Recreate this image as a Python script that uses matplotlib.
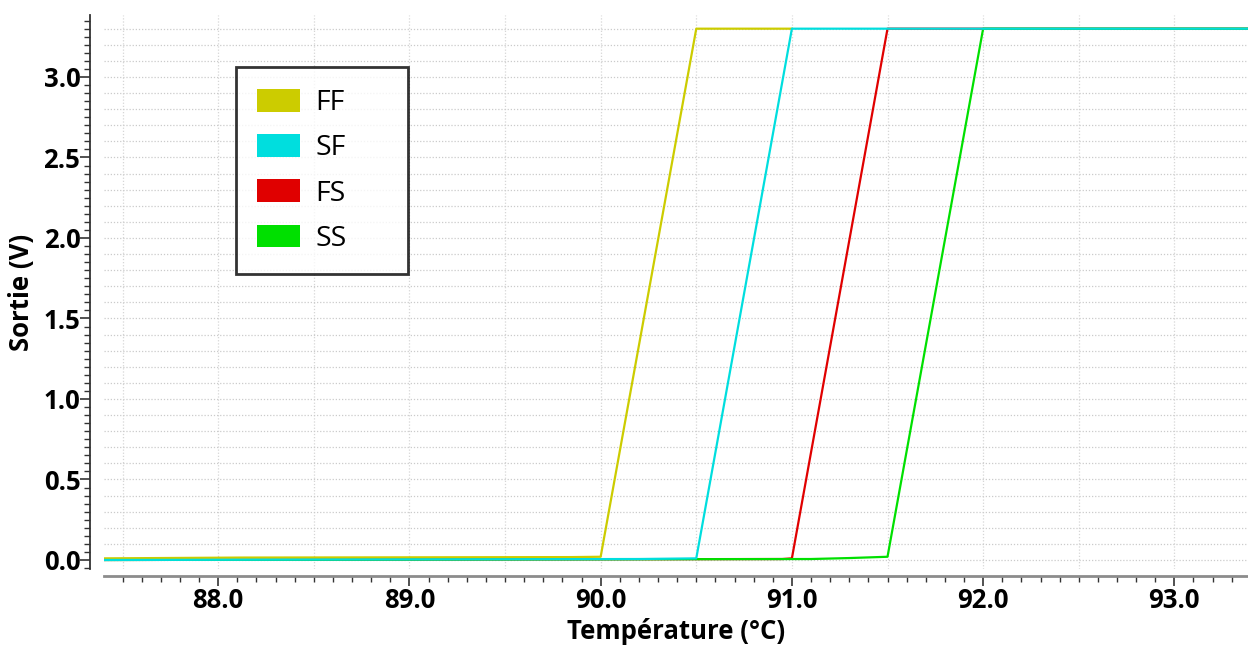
import numpy as np
import matplotlib
matplotlib.use('Agg')
import matplotlib.pyplot as plt
from matplotlib.patches import Patch
from matplotlib.ticker import MultipleLocator, FormatStrFormatter

plt.rcParams['font.family'] = ['Open Sans', 'DejaVu Sans']

# corner data
temp_ff = [87.40, 88.12, 89.85, 90.00, 90.50, 91.00]
out_ff = [0.010, 0.015, 0.018, 0.020, 3.30, 3.30]

temp_sf = [87.40, 90.20, 90.50, 91.00, 93.40]
out_sf = [0.000, 0.006, 0.010, 3.30, 3.30]

temp_fs = [87.40, 90.95, 91.00, 91.50, 93.40]
out_fs = [0.000, 0.006, 0.010, 3.30, 3.30]

temp_ss = [87.40, 91.10, 91.30, 91.50, 92.00, 93.40]
out_ss = [0.000, 0.006, 0.012, 0.020, 3.30, 3.30]

names = ['FF', 'SF', 'FS', 'SS']
colors = {'FF': '#cccc00', 'SF': '#00dede', 'FS': '#e00000', 'SS': '#00e000'}

W, H = 1248, 650
fig = plt.figure(figsize=(W / 100, H / 100), dpi=100)
# data area in pixels: x 104..1248, y 15..569
ax = fig.add_axes([104 / W, (H - 569) / H, (1248 - 104) / W, (569 - 15) / H])

ax.set_xlim(87.403, 93.385)
ax.set_ylim(-0.056, 3.385)

# grid: dotted, vertical every 0.5, horizontal every 0.1
for gx in np.arange(87.5, 93.4, 0.5):
    ax.axvline(gx, color='#d6d6d6', lw=0.9, ls=(0, (1, 1.5)), zorder=0)
for gy in np.arange(0.0, 3.35, 0.1):
    ax.axhline(gy, color='#cbcbcb', lw=0.9, ls=(0, (1, 1.5)), zorder=0)

# draw order so cyan sits on top like in the reference
ax.plot(temp_fs, out_fs, color=colors['FS'], lw=1.6, zorder=2)
ax.plot(temp_ss, out_ss, color=colors['SS'], lw=1.6, zorder=3)
ax.plot(temp_ff, out_ff, color=colors['FF'], lw=1.6, zorder=4)
ax.plot(temp_sf, out_sf, color=colors['SF'], lw=1.6, zorder=5)

# axes look
ax.spines['top'].set_visible(False)
ax.spines['right'].set_visible(False)
ax.spines['left'].set_position(('outward', 10))
ax.spines['bottom'].set_position(('outward', 5))
ax.spines['left'].set_color('#333333')
ax.spines['bottom'].set_color('#8c8c8c')
ax.spines['left'].set_linewidth(1.3)
ax.spines['bottom'].set_linewidth(2.0)

ax.xaxis.set_major_locator(MultipleLocator(1.0))
ax.xaxis.set_minor_locator(MultipleLocator(0.1))
ax.yaxis.set_major_locator(MultipleLocator(0.5))
ax.yaxis.set_minor_locator(MultipleLocator(0.05))
ax.xaxis.set_major_formatter(FormatStrFormatter('%.1f'))
ax.yaxis.set_major_formatter(FormatStrFormatter('%.1f'))

ax.tick_params(axis='both', which='major', length=7, width=1.2, color='#333333',
               labelsize=18.5, pad=0)
ax.tick_params(axis='x', which='major', pad=1)
ax.tick_params(axis='both', which='minor', length=4, width=1.0, color='#333333')
for lab in ax.get_xticklabels() + ax.get_yticklabels():
    lab.set_fontweight('bold')

ax.set_xlabel('Température (°C)', fontsize=18.5, fontweight='bold', labelpad=3)
ax.set_ylabel('Sortie (V)', fontsize=18.5, fontweight='bold', labelpad=6)

handles = [Patch(facecolor=colors[n], edgecolor='none', label=n) for n in names]
leg = ax.legend(handles=handles, loc='upper left',
                bbox_to_anchor=((236 - 104) / 1144, (569 - 73) / 554, 172 / 1144, 0.01),
                mode='expand', borderaxespad=0, fontsize=20.5, frameon=True, fancybox=False,
                handlelength=1.5, handleheight=0.85, handletextpad=0.55,
                labelspacing=0.6, borderpad=0.75)
leg.get_frame().set_edgecolor('black')
leg.get_frame().set_linewidth(2.0)

fig.savefig('out.png', dpi=100)
